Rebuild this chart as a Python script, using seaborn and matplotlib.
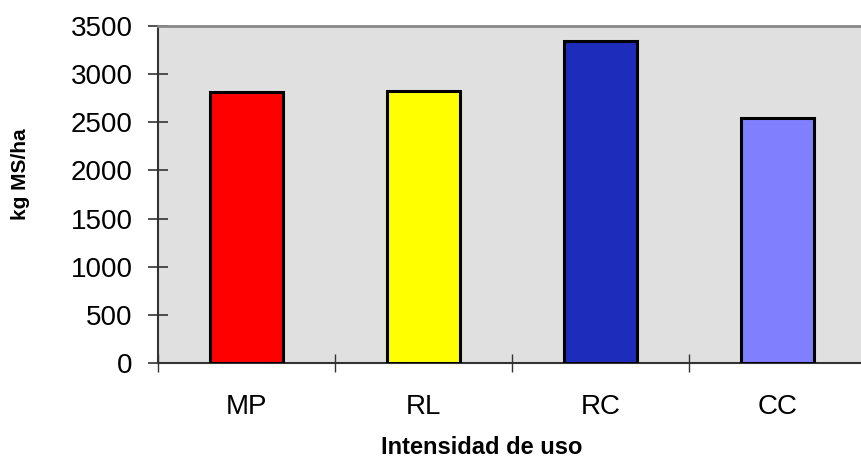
import matplotlib
matplotlib.use("Agg")
import matplotlib.pyplot as plt
import seaborn as sns
import pandas as pd

categories = ["MP", "RL", "RC", "CC"]
values = [2810, 2820, 3340, 2540]
colors = ["#FF0000", "#FFFF00", "#1E2CBC", "#8080FF"]
yticks = [0, 500, 1000, 1500, 2000, 2500, 3000, 3500]

sns.set_style("white")
plt.rcParams["font.family"] = ["Liberation Sans", "DejaVu Sans"]
plt.rcParams["text.color"] = "black"
plt.rcParams["xtick.color"] = "black"
plt.rcParams["ytick.color"] = "black"
plt.rcParams["axes.labelcolor"] = "black"

fig = plt.figure(figsize=(8.62, 4.68), dpi=100)
ax = fig.add_axes([158 / 862, 1 - 363 / 468, 708 / 862, 337 / 468])

df = pd.DataFrame({"cat": categories, "val": values})
sns.barplot(data=df, x="cat", y="val", hue="cat", palette=colors,
            width=0.41, edgecolor="black", linewidth=2.2, saturation=1,
            legend=False, ax=ax, zorder=3)

ax.set_facecolor("#E0E0E0")
ax.set_xlim(-0.5, 3.5)
ax.set_ylim(0, 3500)
ax.set_yticks(yticks)
ax.set_yticklabels([str(v) for v in yticks], fontsize=20)
ax.tick_params(axis="y", direction="inout", length=14.4, width=1.2,
               color="#333333", labelcolor="black", pad=11.0, left=True)

ax.set_xticks([-0.5, 0.5, 1.5, 2.5, 3.5])
ax.set_xticklabels([])
ax.tick_params(axis="x", which="major", direction="inout", length=13,
               width=1.0, color="#333333", bottom=True)
ax.set_xticks([0, 1, 2, 3], minor=True)
ax.set_xticklabels(categories, minor=True, fontsize=20)
ax.tick_params(axis="x", which="minor", length=0, pad=22, labelcolor="black")

ax.set_xlabel("")
ax.set_ylabel("")
ax.grid(False)

for side in ["left", "bottom"]:
    ax.spines[side].set_color("#333333")
    ax.spines[side].set_linewidth(1.5)
ax.spines["top"].set_color("#888888")
ax.spines["top"].set_linewidth(2.0)
ax.spines["right"].set_visible(False)

fig.text(482 / 862, 1 - 447 / 468, "Intensidad de uso", fontsize=17,
         fontweight="bold", ha="center", va="center", color="black")
fig.text(21 / 862, 1 - 174 / 468, "kg MS/ha", fontsize=15,
         fontweight="bold", ha="center", va="center", rotation=90,
         color="black")

fig.savefig("out.png", dpi=100)
